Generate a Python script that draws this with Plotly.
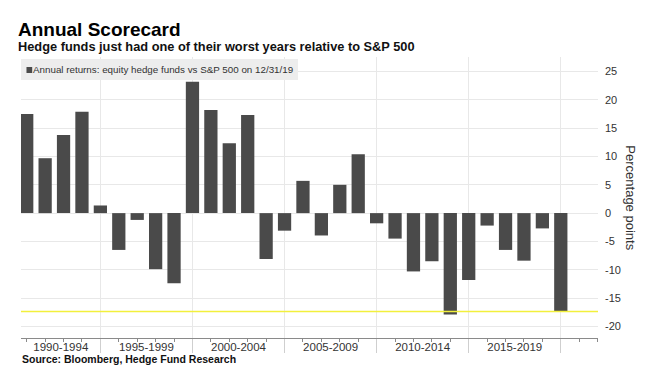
import plotly.graph_objects as go

# ---- data -------------------------------------------------------------
YEARS = list(range(1990, 2020))
RETURNS = [17.5, 9.7, 13.8, 17.9, 1.35, -6.5, -1.2, -9.9, -12.4, 23.2,
           18.2, 12.35, 17.35, -8.1, -3.1, 5.7, -3.95, 5.0, 10.4, -1.8,
           -4.5, -10.3, -8.5, -17.9, -11.8, -2.2, -6.5, -8.4, -2.7, -17.4]
PERIOD_LABELS = ["1990-1994", "1995-1999", "2000-2004", "2005-2009",
                 "2010-2014", "2015-2019"]
PERIOD_LABEL_POS = [1991.85, 1996.5, 2001.5, 2006.5, 2011.5, 2016.5]
PERIOD_BOUNDS = [1994, 1999, 2004, 2009, 2014, 2019]
Y_TICKS = [-20, -15, -10, -5, 0, 5, 10, 15, 20, 25]
Y_TICK_TEXT = [str(v) for v in Y_TICKS]

TITLE = "Annual Scorecard"
SUBTITLE = "Hedge funds just had one of their worst years relative to S&P 500"
LEGEND_TEXT = "Annual returns: equity hedge funds vs S&P 500 on 12/31/19"
SOURCE = "Source: Bloomberg, Hedge Fund Research"
Y_TITLE = "Percentage points"

BAR_COLOR = "#4a4a4a"
GRID = "#e8e8e8"
TEXT = "#333333"
BASE_FONT = "Liberation Sans, Arial, sans-serif"
NARROW_FONT = "Liberation Sans Narrow, Liberation Sans, Arial, sans-serif"

X_RANGE = [1989.69, 2021.02]

fig = go.Figure()
fig.add_trace(go.Bar(x=YEARS, y=RETURNS, width=0.72,
                     marker=dict(color=BAR_COLOR, line=dict(width=0)),
                     showlegend=False, hoverinfo="x+y"))
# helper trace so that the label axis is drawn
fig.add_trace(go.Scatter(x=[PERIOD_LABEL_POS[0]], y=[0], xaxis="x2",
                         mode="markers", marker=dict(opacity=0),
                         showlegend=False, hoverinfo="skip"))

fig.update_layout(
    width=650, height=387,
    margin=dict(l=20.5, r=51.5, t=57, b=48.7, pad=0),
    plot_bgcolor="white", paper_bgcolor="white",
    font=dict(family=BASE_FONT, color=TEXT),
    showlegend=False,
    xaxis=dict(range=X_RANGE, tickmode="array", tickvals=PERIOD_BOUNDS,
               showticklabels=False, ticks="outside", ticklen=14,
               tickcolor="#cfcfcf", tickwidth=1,
               showgrid=True, gridcolor=GRID, gridwidth=1,
               showline=True, linecolor="#8a8a8a", linewidth=1,
               zeroline=False,
               minor=dict(tickmode="linear", tick0=1990, dtick=1,
                          ticks="outside", ticklen=3, tickcolor="#8a8a8a",
                          showgrid=False)),
    xaxis2=dict(range=X_RANGE, overlaying="x", anchor="y", side="bottom",
                tickmode="array", tickvals=PERIOD_LABEL_POS,
                ticktext=PERIOD_LABELS, ticks="", showgrid=False,
                showline=False, zeroline=False,
                tickfont=dict(size=11.5, color=TEXT)),
    yaxis=dict(range=[-22.06, 27.58], side="right", tickmode="array",
               tickvals=Y_TICKS, ticktext=Y_TICK_TEXT, ticks="",
               showgrid=True, gridcolor=GRID, gridwidth=1,
               zeroline=False, showline=False, ticklabelstandoff=6,
               tickfont=dict(size=11, color=TEXT)),
)

shapes = [
    # legend background
    dict(type="rect", xref="paper", yref="paper", x0=0.0, x1=0.4801,
         y0=0.9182, y1=0.9929, fillcolor="#ededed", line=dict(width=0),
         layer="above"),
    # legend swatch
    dict(type="rect", xref="paper", yref="paper", x0=0.0095, x1=0.0194,
         y0=0.9431, y1=0.9644, fillcolor=BAR_COLOR, line=dict(width=0),
         layer="above"),
    # latest value reference line
    dict(type="line", xref="paper", yref="y", x0=0, x1=1,
         y0=RETURNS[-1], y1=RETURNS[-1],
         line=dict(color="#f2f03c", width=1.5), layer="above"),
]
fig.update_layout(shapes=shapes)

annotations = [
    dict(text="<b>" + TITLE + "</b>", xref="paper", yref="paper",
         x=-0.0095, y=1.0978, xanchor="left", yanchor="middle",
         showarrow=False,
         font=dict(family=NARROW_FONT, size=19, color="#000000")),
    dict(text="<b>" + SUBTITLE + "</b>", xref="paper", yref="paper",
         x=-0.0095, y=1.0356, xanchor="left", yanchor="middle",
         showarrow=False,
         font=dict(family=NARROW_FONT, size=12.8, color="#111111")),
    dict(text="<b>" + SOURCE + "</b>", xref="paper", yref="paper",
         x=-0.0025, y=-0.0736, xanchor="left", yanchor="middle",
         showarrow=False, font=dict(family=BASE_FONT, size=10.5,
                                    color="#111111")),
    dict(text=LEGEND_TEXT, xref="paper", yref="paper", x=0.0165,
         y=0.9556, xanchor="left", yanchor="middle", showarrow=False,
         font=dict(family=BASE_FONT, size=9.8, color=TEXT)),
    dict(text=Y_TITLE, xref="paper", yref="paper", x=1.0563, y=0.4988,
         xanchor="center", yanchor="middle", textangle=90,
         showarrow=False, font=dict(family=BASE_FONT, size=13,
                                    color=TEXT)),
]
fig.update_layout(annotations=annotations)

fig.write_html("out.html", config={"displayModeBar": False},
               post_script="document.body.style.margin='0';")
